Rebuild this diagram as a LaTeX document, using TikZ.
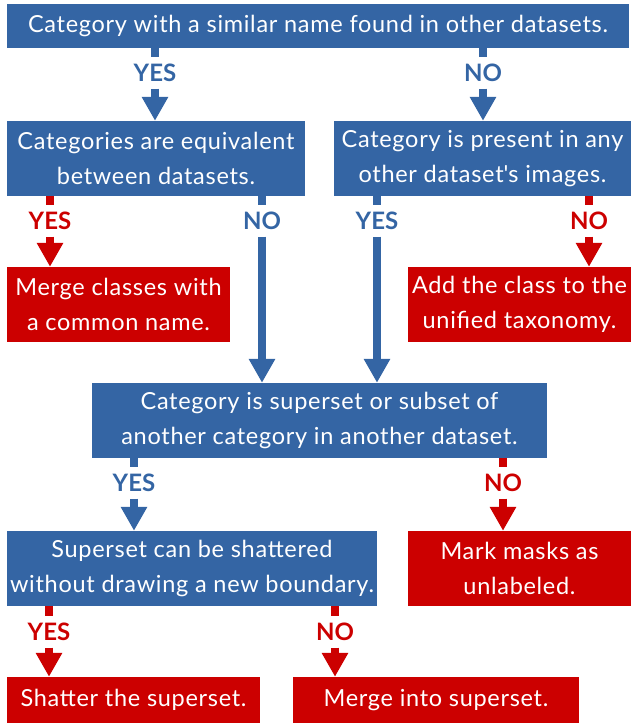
\documentclass[tikz,border=0pt]{standalone}
\usepackage{fontspec}
\setmainfont{Lato}
\newfontfamily\boxfont[LetterSpace=3]{Lato}
\usepackage{xcolor}
\usetikzlibrary{arrows.meta,positioning}

\definecolor{qblue}{RGB}{52,101,164}
\definecolor{ared}{RGB}{204,0,0}

\begin{document}
\begin{tikzpicture}[x=1pt,y=1pt]
            \tikzstyle{question} = [rectangle, fill=qblue, text=white, inner sep=0pt, minimum height=75pt, align=center, font=\boxfont\fontsize{23.5}{35}\selectfont]
            \tikzstyle{action} = [question, fill=ared]
            \tikzstyle{bluelabel} = [inner sep=0pt, minimum height=31pt, text=qblue, font=\bfseries\fontsize{24}{24}\selectfont]
            \tikzstyle{redlabel} = [bluelabel, text=ared]
            \tikzstyle{blueline} = [line width=8.5pt, qblue]
            \tikzstyle{redline} = [line width=8.5pt, ared]
            \tikzstyle{bluearrow} = [blueline, -{Triangle[width=25pt,length=24pt]}]
            \tikzstyle{redarrow} = [redline, -{Triangle[width=25pt,length=24pt]}]

            \useasboundingbox (0,0) rectangle (631,-723);

            % boxes
            \node [question, minimum width=622pt, minimum height=44pt] (similar) at (318,-26) {Category with a similar name found in other datasets.};
            \node [question, minimum width=298pt] (equiv) at (156,-158.5) {Categories are equivalent\\between datasets.};
            \node [question, minimum width=297pt] (present) at (482.5,-158.5) {Category is present in any\\other dataset\textquotesingle s images.};
            \node [action, minimum width=223pt] (merge) at (118.5,-304.5) {Merge classes with\\a common name.};
            \node [action, minimum width=223pt] (add) at (519.5,-304.5) {Add the class to the\\unified taxonomy.};
            \node [question, minimum width=455pt] (superset) at (319.5,-420.5) {Category is superset or subset of\\another category in another dataset.};
            \node [question, minimum width=370pt] (shatterq) at (192,-568.5) {Superset can be shattered\\without drawing a new boundary.};
            \node [action, minimum width=223pt] (mark) at (519.5,-568.5) {Mark masks as\\unlabeled.};
            \node [action, minimum width=253pt, minimum height=46pt] (shatter) at (133.5,-700) {Shatter the superset.};
            \node [action, minimum width=286pt, minimum height=46pt] (mergeinto) at (436,-700) {Merge into superset.};

            % answers
            \node [bluelabel] (yes1) at (155,-73) {YES};
            \node [bluelabel] (no1) at (483,-73) {NO};
            \node [redlabel] (yes2) at (50,-221) {YES};
            \node [bluelabel] (no2) at (262,-221) {NO};
            \node [bluelabel] (yes3) at (377,-221) {YES};
            \node [redlabel] (no3) at (589,-221) {NO};
            \node [bluelabel] (yes4) at (134,-483) {YES};
            \node [redlabel] (no4) at (503,-483) {NO};
            \node [redlabel] (yes5) at (49,-632) {YES};
            \node [redlabel] (no5) at (335,-632) {NO};

            % connectors
            \draw [blueline] (similar.south -| yes1) -- (yes1);
            \draw [bluearrow] (yes1) -- (equiv.north -| yes1);
            \draw [blueline] (similar.south -| no1) -- (no1);
            \draw [bluearrow] (no1) -- (present.north -| no1);
            \draw [redline] (equiv.south -| yes2) -- (yes2);
            \draw [redarrow] (yes2) -- (merge.north -| yes2);
            \draw [blueline] (equiv.south -| no2) -- (no2);
            \draw [bluearrow] (no2) -- (superset.north -| no2);
            \draw [blueline] (present.south -| yes3) -- (yes3);
            \draw [bluearrow] (yes3) -- (superset.north -| yes3);
            \draw [redline] (present.south -| no3) -- (no3);
            \draw [redarrow] (no3) -- (add.north -| no3);
            \draw [blueline] (superset.south -| yes4) -- (yes4);
            \draw [bluearrow] (yes4) -- (shatterq.north -| yes4);
            \draw [redline] (superset.south -| no4) -- (no4);
            \draw [redarrow] (no4) -- (mark.north -| no4);
            \draw [redline] (shatterq.south -| yes5) -- (yes5);
            \draw [redarrow] (yes5) -- (shatter.north -| yes5);
            \draw [redline] (shatterq.south -| no5) -- (no5);
            \draw [redarrow] (no5) -- (mergeinto.north -| no5);
        \end{tikzpicture}
\end{document}
